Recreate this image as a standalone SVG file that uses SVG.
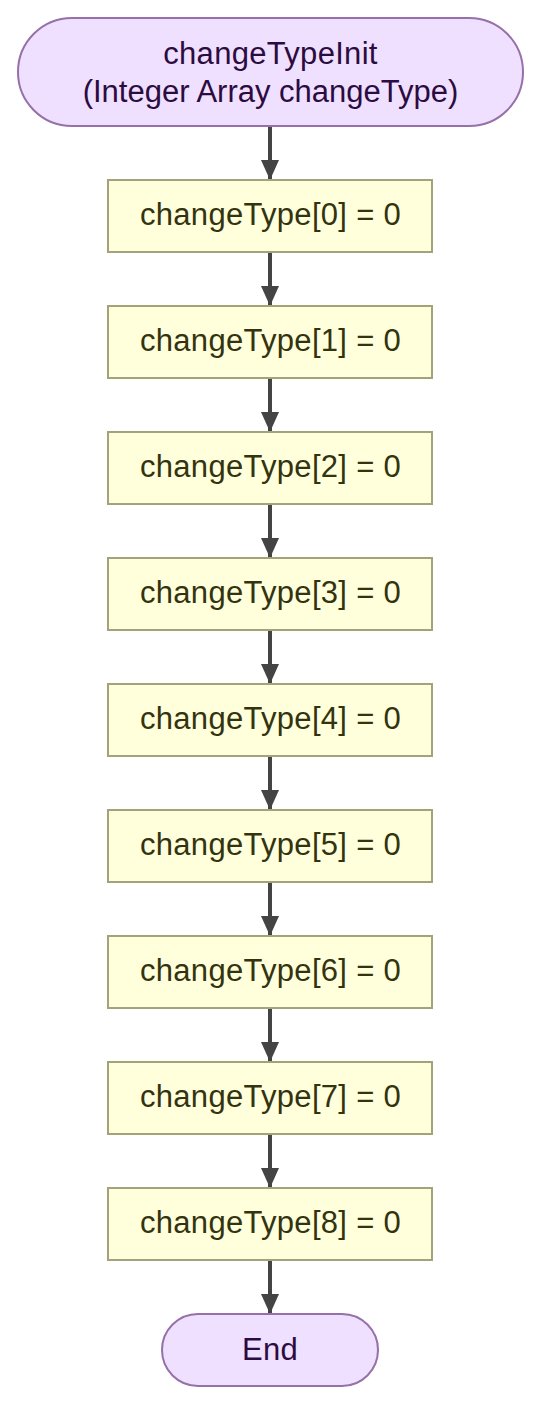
<svg xmlns="http://www.w3.org/2000/svg" width="541" height="1405" viewBox="0 0 541 1405">
<style>
.term{fill:#efe0ff;stroke:#9670a8;stroke-width:2}
.proc{fill:#ffffdc;stroke:#a3a37a;stroke-width:2}
.tt{font-family:"Liberation Sans",Arial,sans-serif;font-size:31px;fill:#2c0c40;text-anchor:middle}
.pt{font-family:"Liberation Sans",Arial,sans-serif;font-size:31px;fill:#333310;text-anchor:middle;letter-spacing:0.3px}
.ls{letter-spacing:0.3px}
.edge{stroke:#444;stroke-width:4;fill:none}
</style>
<defs>
<marker id="ah" markerUnits="userSpaceOnUse" markerWidth="20" markerHeight="18" refX="20" refY="9" orient="auto" viewBox="0 0 20 18">
<path d="M0,0 L20,9 L0,18 Z" fill="#444"/>
</marker>
</defs>
<rect width="541" height="1405" fill="#fff"/>
<g id="connectors">
<line class="edge" x1="270" y1="127" x2="270" y2="180" marker-end="url(#ah)"/>
<line class="edge" x1="270" y1="253" x2="270" y2="306" marker-end="url(#ah)"/>
<line class="edge" x1="270" y1="379" x2="270" y2="432" marker-end="url(#ah)"/>
<line class="edge" x1="270" y1="505" x2="270" y2="558" marker-end="url(#ah)"/>
<line class="edge" x1="270" y1="631" x2="270" y2="684" marker-end="url(#ah)"/>
<line class="edge" x1="270" y1="757" x2="270" y2="810" marker-end="url(#ah)"/>
<line class="edge" x1="270" y1="883" x2="270" y2="936" marker-end="url(#ah)"/>
<line class="edge" x1="270" y1="1009" x2="270" y2="1062" marker-end="url(#ah)"/>
<line class="edge" x1="270" y1="1135" x2="270" y2="1188" marker-end="url(#ah)"/>
<line class="edge" x1="270" y1="1261" x2="270" y2="1314" marker-end="url(#ah)"/>
</g>
<g id="start">
<rect class="term" x="18" y="18" width="505" height="108" rx="54" ry="54"/>
<text class="tt ls" x="270.5" y="64">changeTypeInit</text>
<text class="tt" x="270.5" y="101.5">(Integer Array changeType)</text>
</g>
<g id="n0"><rect class="proc" x="108" y="180" width="324" height="72"/><text class="pt" x="270.5" y="225">changeType[0] = 0</text></g>
<g id="n1"><rect class="proc" x="108" y="306" width="324" height="72"/><text class="pt" x="270.5" y="351">changeType[1] = 0</text></g>
<g id="n2"><rect class="proc" x="108" y="432" width="324" height="72"/><text class="pt" x="270.5" y="477">changeType[2] = 0</text></g>
<g id="n3"><rect class="proc" x="108" y="558" width="324" height="72"/><text class="pt" x="270.5" y="603">changeType[3] = 0</text></g>
<g id="n4"><rect class="proc" x="108" y="684" width="324" height="72"/><text class="pt" x="270.5" y="729">changeType[4] = 0</text></g>
<g id="n5"><rect class="proc" x="108" y="810" width="324" height="72"/><text class="pt" x="270.5" y="855">changeType[5] = 0</text></g>
<g id="n6"><rect class="proc" x="108" y="936" width="324" height="72"/><text class="pt" x="270.5" y="981">changeType[6] = 0</text></g>
<g id="n7"><rect class="proc" x="108" y="1062" width="324" height="72"/><text class="pt" x="270.5" y="1107">changeType[7] = 0</text></g>
<g id="n8"><rect class="proc" x="108" y="1188" width="324" height="72"/><text class="pt" x="270.5" y="1233">changeType[8] = 0</text></g>
<g id="end">
<rect class="term" x="162" y="1314" width="216" height="72" rx="36" ry="36"/>
<text class="tt ls" x="270" y="1360">End</text>
</g>
</svg>
